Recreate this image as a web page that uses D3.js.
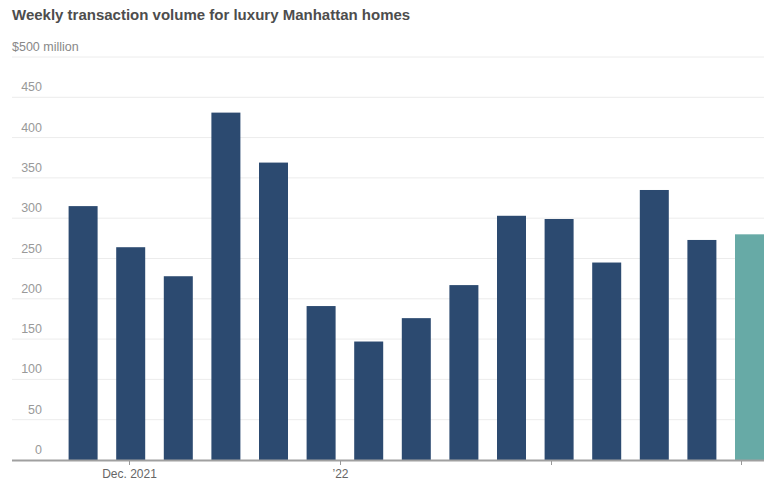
<!DOCTYPE html>
<html>
<head>
<meta charset="utf-8">
<script src="https://cdn.jsdelivr.net/npm/d3@7"></script>
<style>
  body { margin: 0; background: #fff; font-family: "Liberation Sans", Arial, Helvetica, sans-serif; }
  svg { display: block; }
</style>
</head>
<body>
<svg id="canvas" width="764" height="480"></svg>
<script>
// weekly data (week dates, values in $ million)
let weeks = ['2021-11-24', '2021-12-01', '2021-12-08', '2021-12-15', '2021-12-22', '2021-12-29',
  '2022-01-05', '2022-01-12', '2022-01-19', '2022-01-26', '2022-02-02', '2022-02-09',
  '2022-02-16', '2022-02-23', '2022-03-02'];
let volumes = [315, 264, 228, 431, 369, 191, 147, 176, 217, 303, 299, 245, 335, 273, 280];
let highlight = [false, false, false, false, false, false, false, false, false, false,
  false, false, false, false, true];

let yTicks = [0, 50, 100, 150, 200, 250, 300, 350, 400, 450, 500];
let xTickDates = ['2021-12-01', '2022-01-01', '2022-02-01', '2022-03-01'];
let xTickLabels = ['Dec. 2021', '\u201922', '', ''];

let parseDate = d3.timeParse('%Y-%m-%d');

let canvas = d3.select('#canvas');

let x = d3.scaleTime()
  .domain([parseDate('2021-12-01'), parseDate('2022-03-01')])
  .range([129, 741]);

let y = d3.scaleLinear()
  .domain([0, 500])
  .range([460, 57]);

let barWidth = 29;

// title
canvas.append('text')
  .attr('x', 12)
  .attr('y', 20)
  .attr('font-size', 15)
  .attr('font-weight', 'bold')
  .attr('fill', '#4d4d4d')
  .text('Weekly transaction volume for luxury Manhattan homes');

// gridlines + y labels
let grid = canvas.append('g');
yTicks.forEach((t) => {
  if (t > 0) {
    grid.append('line')
      .attr('x1', 12).attr('x2', 764)
      .attr('y1', y(t)).attr('y2', y(t))
      .attr('stroke', '#ececec')
      .attr('stroke-width', 1);
  }
  if (t === 500) {
    grid.append('text')
      .attr('x', 12)
      .attr('y', y(t) - 6)
      .attr('font-size', 12.5)
      .attr('fill', '#888')
      .text('$500 million');
  } else {
    grid.append('text')
      .attr('x', 42)
      .attr('y', y(t) - 6)
      .attr('text-anchor', 'end')
      .attr('font-size', 12.5)
      .attr('fill', '#999')
      .text(t);
  }
});

// bars
canvas.selectAll('rect.bar')
  .data(weeks)
  .enter()
  .append('rect')
  .attr('class', 'bar')
  .attr('x', (w) => x(d3.timeHour.offset(parseDate(w), 6)) - barWidth / 2)
  .attr('width', barWidth)
  .attr('y', (w, i) => y(volumes[i]))
  .attr('height', (w, i) => y(0) - y(volumes[i]))
  .attr('fill', (w, i) => highlight[i] ? '#67aaa6' : '#2c4a70');

// x axis line
canvas.append('line')
  .attr('x1', 12).attr('x2', 764)
  .attr('y1', 460.5).attr('y2', 460.5)
  .attr('stroke', '#a0a0a0')
  .attr('stroke-width', 2);

// x ticks
xTickDates.forEach((d, i) => {
  let px = Math.round(x(parseDate(d))) + 0.5;
  canvas.append('line')
    .attr('x1', px).attr('x2', px)
    .attr('y1', 461).attr('y2', 465)
    .attr('stroke', '#999')
    .attr('stroke-width', 1);
  if (xTickLabels[i]) {
    canvas.append('text')
      .attr('x', px)
      .attr('y', 478)
      .attr('text-anchor', 'middle')
      .attr('font-size', 12)
      .attr('fill', '#666')
      .text(xTickLabels[i]);
  }
});
</script>
</body>
</html>
